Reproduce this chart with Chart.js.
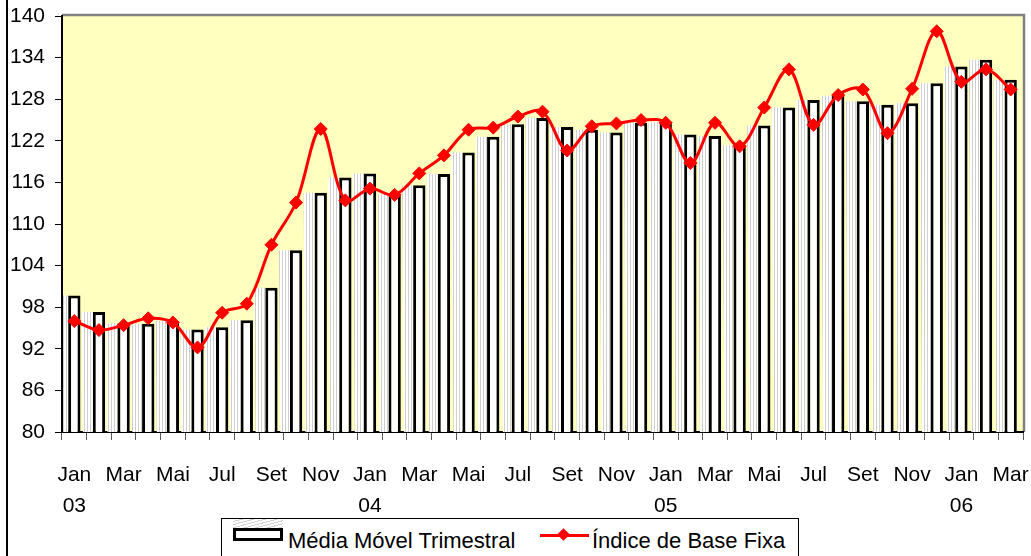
<!DOCTYPE html>
<html lang="pt">
<head>
<meta charset="utf-8">
<title>Média Móvel Trimestral e Índice de Base Fixa</title>
<script src="https://cdn.jsdelivr.net/npm/chart.js@4.4.1/dist/chart.umd.min.js"></script>
<style>
  body { margin: 0; background: #fff; }
  #quadro { position: relative; width: 1031px; height: 556px; overflow: hidden; font-family: "Liberation Sans", Arial, sans-serif; }
  #borda { position: absolute; left: 6px; top: 0; width: 2px; height: 556px; background: #000; }
  #legenda { position: absolute; left: 221px; top: 518px; width: 576px; height: 60px; border: 1px solid #000; background: #fff; }
  #legenda .icone-barra { position: absolute; left: 11px; top: 9px; width: 44px; height: 7px; border: 3px solid #000; background: #fff; }
  #legenda .sombra { position: absolute; left: 11px; top: 0; width: 50px; height: 11px;
    background: repeating-linear-gradient(165deg, #fff 0 2px, #d0d0d0 2px 3px); }
  #legenda .linha { position: absolute; left: 318px; top: 15px; width: 49px; height: 3px; background: #f00; }
  #legenda .losango { position: absolute; left: 337px; top: 11px; width: 9px; height: 9px; background: #f00; transform: rotate(45deg); }
  #legenda .texto { position: absolute; top: 9px; font-size: 22px; color: #000; white-space: nowrap; line-height: 26px; }
</style>
</head>
<body>
<div id="quadro">
  <canvas id="grafico" width="1031" height="556"></canvas>
  <div id="borda"></div>
  <div id="legenda">
    <span class="sombra"></span>
    <span class="icone-barra"></span>
    <span class="texto" id="leg1" style="left:66px"></span>
    <span class="linha"></span>
    <span class="losango"></span>
    <span class="texto" id="leg2" style="left:370px"></span>
  </div>
</div>
<script>
// Meses (jan/2003 a mar/2006)
const categorias = [
  'Jan/03', 'Fev/03', 'Mar/03', 'Abr/03', 'Mai/03', 'Jun/03', 'Jul/03', 'Ago/03', 'Set/03', 'Out/03', 'Nov/03', 'Dez/03',
  'Jan/04', 'Fev/04', 'Mar/04', 'Abr/04', 'Mai/04', 'Jun/04', 'Jul/04', 'Ago/04', 'Set/04', 'Out/04', 'Nov/04', 'Dez/04',
  'Jan/05', 'Fev/05', 'Mar/05', 'Abr/05', 'Mai/05', 'Jun/05', 'Jul/05', 'Ago/05', 'Set/05', 'Out/05', 'Nov/05', 'Dez/05',
  'Jan/06', 'Fev/06', 'Mar/06'
];

// Média móvel trimestral (barras)
const mediaMovel = [
  99.7, 97.3, 95.7, 95.6, 96.0, 94.8, 95.1, 96.1, 100.8, 106.2, 114.5, 116.7,
  117.3, 114.3, 115.6, 117.2, 120.3, 122.6, 124.4, 125.3, 124.0, 123.6, 123.2, 124.6,
  124.7, 122.9, 122.7, 121.4, 124.2, 126.8, 127.9, 128.5, 127.7, 127.2, 127.4, 130.3,
  132.7, 133.7, 130.8
];

// Índice de base fixa (linha)
const indiceBase = [
  96.0, 94.7, 95.4, 96.4, 95.8, 92.2, 97.2, 98.5, 107.0, 113.1, 123.7, 113.4,
  115.1, 114.2, 117.3, 119.9, 123.6, 123.9, 125.5, 126.2, 120.6, 124.1, 124.5, 125.0,
  124.6, 118.8, 124.6, 121.2, 126.8, 132.3, 124.3, 128.6, 129.4, 123.1, 129.5, 137.8,
  130.5, 132.3, 129.4
];

// Eixo Y
const yMin = 80;
const yMax = 140;
const yPasso = 6;

// Padrão hachurado para a sombra das barras
const pc = document.createElement('canvas');
pc.width = 3; pc.height = 3;
const pctx = pc.getContext('2d');
pctx.fillStyle = '#ffffff';
pctx.fillRect(0, 0, 3, 3);
pctx.fillStyle = '#cfcfcf';
pctx.fillRect(0, 0, 1, 3);
const padrao = pctx.createPattern(pc, 'repeat');

const fundoPlugin = {
  id: 'fundo',
  beforeDraw(chart) {
    const ctx = chart.ctx;
    const a = chart.chartArea;
    ctx.save();
    ctx.fillStyle = '#ffffc0';
    ctx.fillRect(a.left, a.top, a.right - a.left, a.bottom - a.top);
    // borda cinza superior e direita
    ctx.strokeStyle = '#808080';
    ctx.lineWidth = 2.5;
    ctx.beginPath();
    ctx.moveTo(a.left, a.top - 1);
    ctx.lineTo(a.right + 1, a.top - 1);
    ctx.lineTo(a.right + 1, a.bottom);
    ctx.stroke();
    ctx.restore();
  },
  beforeDatasetsDraw(chart) {
    const ctx = chart.ctx;
    const a = chart.chartArea;
    const meta = chart.getDatasetMeta(0);
    ctx.save();
    ctx.beginPath();
    ctx.rect(a.left + 1, a.top, a.right - a.left, a.bottom - a.top);
    ctx.clip();
    ctx.fillStyle = padrao;
    meta.data.forEach(function(bar) {
      const esq = bar.x - bar.width / 2;
      ctx.beginPath();
      ctx.moveTo(esq - 11, bar.y);
      ctx.lineTo(esq, bar.y);
      ctx.lineTo(esq, bar.base);
      ctx.lineTo(esq - 5, bar.base);
      ctx.closePath();
      ctx.fill();
    });
    ctx.restore();
  }
};

const ctx = document.getElementById('grafico').getContext('2d');
const grafico = new Chart(ctx, {
  data: {
    labels: categorias,
    datasets: [
      {
        type: 'bar',
        label: 'Média Móvel Trimestral',
        data: mediaMovel,
        backgroundColor: '#ffffff',
        borderColor: '#000000',
        borderWidth: 3,
        borderSkipped: false,
        barPercentage: 0.5,
        categoryPercentage: 1,
        order: 2
      },
      {
        type: 'line',
        label: 'Índice de Base Fixa',
        data: indiceBase,
        borderColor: '#ff0000',
        backgroundColor: '#ff0000',
        borderWidth: 3,
        tension: 0.35,
        pointStyle: 'rectRot',
        pointRadius: 6.5,
        pointBorderWidth: 1,
        order: 1
      }
    ]
  },
  options: {
    responsive: false,
    animation: false,
    layout: { padding: { top: 16, right: 8, left: 0, bottom: 0 } },
    plugins: {
      legend: { display: false },
      tooltip: { enabled: false }
    },
    scales: {
      x: {
        offset: true,
        grid: { offset: true, drawOnChartArea: false, tickLength: 8, color: '#555' },
        border: { color: '#000', width: 2 },
        ticks: {
          autoSkip: false,
          maxRotation: 0,
          padding: 19,
          color: '#000',
          font: { family: 'Liberation Sans', size: 21, lineHeight: 1.5 },
          callback: function(valor, i) {
            if (i % 2 !== 0) return '';
            const partes = categorias[i].split('/');
            return partes[0] === 'Jan' ? [partes[0], partes[1]] : partes[0];
          }
        },
        afterFit: function(scale) {
          scale.height = 124;
          scale.paddingLeft = 0;
          scale.paddingRight = 0;
        }
      },
      y: {
        min: yMin,
        max: yMax,
        grid: { drawOnChartArea: false, tickLength: 7, color: '#000' },
        border: { color: '#000', width: 2 },
        ticks: {
          stepSize: yPasso,
          padding: 10,
          color: '#000',
          font: { family: 'Liberation Sans', size: 21 }
        },
        afterFit: function(scale) {
          scale.width = 62;
          scale.paddingTop = 0;
          scale.paddingBottom = 0;
        }
      }
    }
  },
  plugins: [fundoPlugin]
});

// Legenda a partir dos rótulos das séries
document.getElementById('leg1').textContent = grafico.data.datasets[0].label;
document.getElementById('leg2').textContent = grafico.data.datasets[1].label;
</script>
</body>
</html>
